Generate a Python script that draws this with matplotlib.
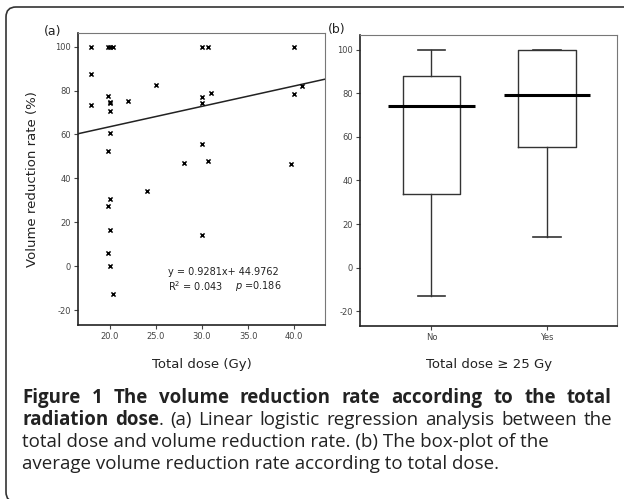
import matplotlib.pyplot as plt
from matplotlib.patches import FancyBboxPatch

# Panel (a): total dose (Gy) vs volume reduction rate (%)
dose = [18.0, 19.8, 20.0, 20.4, 30.0, 30.6, 40.0, 18.0, 25.0, 19.8,
        20.0, 20.0, 18.0, 22.0, 20.0, 30.0, 30.0, 31.0, 20.0, 19.8,
        30.0, 28.0, 30.6, 40.0, 40.8, 39.6, 24.0, 20.0, 19.8, 20.0,
        30.0, 19.8, 20.0, 20.3]
reduction = [100, 100, 100, 100, 100, 100, 100, 87.5, 82.5, 77.6,
             75.0, 74.2, 73.3, 75.1, 70.5, 76.9, 74.5, 79.0, 60.6, 52.3,
             55.5, 47.0, 48.0, 78.6, 81.9, 46.4, 34.3, 30.4, 27.4, 16.7,
             14.0, 5.8, 0.1, -12.8]
slope, intercept = 0.9281, 44.9762
dose_ticks = [20.0, 25.0, 30.0, 35.0, 40.0]

# Panel (b): box-plot by total dose >= 25 Gy
groups = ["No", "Yes"]
whisker_low = [-13.2, 13.9]
q1 = [34.0, 55.5]
median = [74.2, 79.1]
q3 = [87.9, 100.0]
whisker_high = [100.0, 100.0]
rate_ticks = [-20, 0, 20, 40, 60, 80, 100]

fig = plt.figure(figsize=(6.24, 4.99), dpi=100)
tick_font = dict(fontsize=6, color="#444444")

# outer rounded frame (runs off the right and bottom edges, as in the source page)
frame = FancyBboxPatch((6, -3), 640, 495, boxstyle="round,pad=0,rounding_size=10",
                       transform=None, fill=False, edgecolor="#333333", lw=1.2)
fig.patches.append(frame)

# ---- (a) scatter with regression line
ax1 = fig.add_axes([0.125, 0.3487, 0.396, 0.585])
ax1.scatter(dose, reduction, marker="x", s=9, c="black", linewidths=1.1, zorder=3)
xlim = (16.55, 43.35)
ax1.plot(xlim, [slope * x + intercept for x in xlim], color="#222222", lw=1.1)
ax1.set_xlim(xlim)
ax1.set_ylim(-26.8, 106.2)
ax1.set_xticks(dose_ticks)
ax1.set_xticklabels([f"{t:.1f}" for t in dose_ticks], **tick_font)
ax1.set_yticks(rate_ticks)
ax1.set_yticklabels([str(t) for t in rate_ticks], **tick_font)
ax1.set_xlabel("Total dose (Gy)", fontsize=9.5, color="#222222", labelpad=12)
ax1.set_ylabel("Volume reduction rate (%)", fontsize=9.5, color="#222222", labelpad=12)
ax1.text(0.363, 0.1815, f"y = {slope}x+ {intercept}", transform=ax1.transAxes,
         fontsize=7, color="#222222", va="center")
ax1.text(0.363, 0.1336, "R$^2$ = 0.043", transform=ax1.transAxes,
         fontsize=7, color="#222222", va="center")
ax1.text(0.636, 0.1336, "$p$ =0.186", transform=ax1.transAxes,
         fontsize=7, color="#222222", va="center")
fig.text(0.085, 0.936, "(a)", fontsize=9, color="#222222", va="center", ha="center")

# ---- (b) box-plot
ax2 = fig.add_axes([0.577, 0.347, 0.412, 0.5826])
stats = [dict(label=g, whislo=wl, q1=a, med=m, q3=b, whishi=wh, fliers=[])
         for g, wl, a, m, b, wh in zip(groups, whisker_low, q1, median, q3, whisker_high)]
box_line = dict(color="#333333", lw=1.0)
ax2.bxp(stats, positions=[1, 2], widths=0.5, showfliers=False,
        boxprops=box_line, whiskerprops=box_line,
        capprops=dict(color="#333333", lw=1.2), capwidths=0.24,
        medianprops=dict(lw=0))
ax2.hlines(median, [p - 0.375 for p in (1, 2)], [p + 0.375 for p in (1, 2)],
           color="black", lw=2.2, zorder=4)
ax2.set_xlim(0.382, 2.609)
ax2.set_ylim(-26.7, 106.7)
ax2.set_xticks([1, 2])
ax2.set_xticklabels(groups, **tick_font)
ax2.set_yticks(rate_ticks)
ax2.set_yticklabels([str(t) for t in rate_ticks], **tick_font)
ax2.set_xlabel("Total dose \u2265 25 Gy", fontsize=9.5, color="#222222", labelpad=12)
fig.text(0.54, 0.94, "(b)", fontsize=9, color="#222222", va="center", ha="center")

for ax in (ax1, ax2):
    for side in ("top", "right"):
        ax.spines[side].set_color("#777777")
        ax.spines[side].set_linewidth(0.8)
    for side in ("left", "bottom"):
        ax.spines[side].set_color("#222222")
        ax.spines[side].set_linewidth(1.2)
    ax.tick_params(direction="out", length=3, width=0.8, color="#444444", pad=2)

# ---- caption (first two lines justified like the journal page)
cap_font = dict(family="Open Sans", fontsize=13.5, color="#222222", va="center")
renderer = fig.canvas.get_renderer()
left_px, right_px = 22, 612


def run_width(text, bold):
    t = fig.text(0, 0, text, fontweight="bold" if bold else "normal", **cap_font)
    w = t.get_window_extent(renderer).width
    t.remove()
    return w


def justified_line(y_px, words):
    # words: list of tokens, each token a list of (text, bold) runs with no gap between
    widths = [[run_width(s, b) for s, b in tok] for tok in words]
    total = sum(sum(w) for w in widths)
    gap = (right_px - left_px - total) / (len(words) - 1)
    x = left_px
    for tok, ws in zip(words, widths):
        for (s, b), w in zip(tok, ws):
            fig.text(x / 624, 1 - y_px / 499, s, fontweight="bold" if b else "normal",
                     ha="left", **cap_font)
            x += w
        x += gap


def tokens(text, bold=False):
    return [[(w, bold)] for w in text.split()]


justified_line(398, tokens("Figure 1 The volume reduction rate according to the total", True))
justified_line(420, tokens("radiation", True) + [[("dose", True), (".", False)]]
               + tokens("(a) Linear logistic regression analysis between the"))
fig.text(left_px / 624, 1 - 442 / 499,
         "total dose and volume reduction rate. (b) The box-plot of the", ha="left", **cap_font)
fig.text(left_px / 624, 1 - 464 / 499,
         "average volume reduction rate according to total dose.", ha="left", **cap_font)

fig.savefig("out.png", dpi=100)
